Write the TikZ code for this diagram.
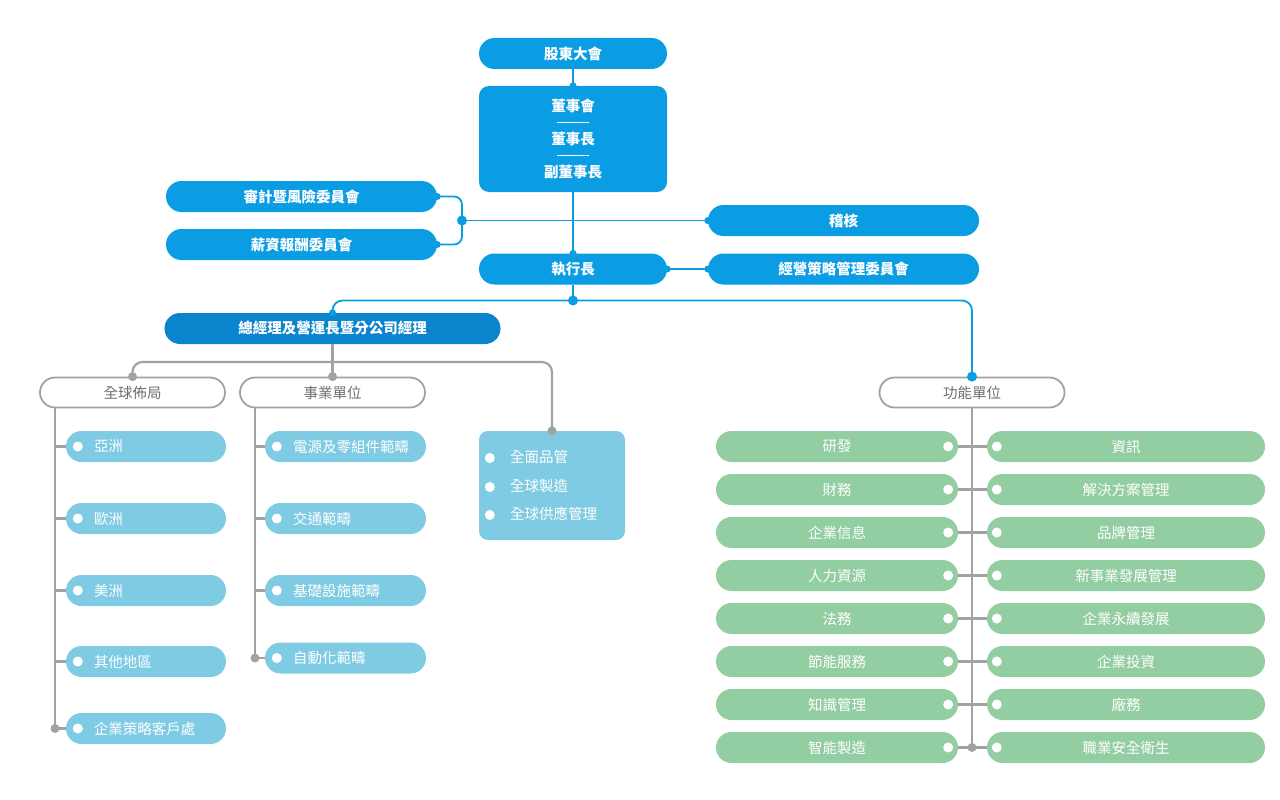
\documentclass[tikz,border=0pt]{standalone}
\usepackage{fontspec}
\usepackage{tikz}
\setmainfont{Noto Sans CJK TC}
\definecolor{skyblue}{HTML}{0A9DE4}
\definecolor{deepblue}{HTML}{0B84CE}
\definecolor{paleblue}{HTML}{7FCBE3}
\definecolor{sage}{HTML}{93CDA2}
\definecolor{wire}{HTML}{A2A2A2}
\definecolor{caption}{HTML}{6E6E6E}
\tikzset{
  pill/.style={rectangle,rounded corners=15.5pt,minimum height=31pt,inner sep=0pt,text=white},
  headbox/.style={pill,fill=skyblue,font=\bfseries\fontsize{14.5}{17}\selectfont},
  groupbox/.style={pill,draw=wire,line width=1.8pt,fill=white,text=caption,rounded corners=15pt,minimum width=185pt,minimum height=30pt,font=\fontsize{14.5}{17}\selectfont},
  listitem/.style={pill,fill=paleblue,text width=#1,align=left,font=\fontsize{14.5}{17}\selectfont,execute at begin node={\hspace*{28pt}}},
  deptitem/.style={pill,fill=sage,minimum width=#1,font=\fontsize{14.5}{17}\selectfont},
  blueline/.style={skyblue,line width=1.8pt},
  grayline/.style={wire,line width=2.2pt},
}
\begin{document}
\begin{tikzpicture}[x=1pt,y=-1pt]
\useasboundingbox (0,0) rectangle (1280,800);
% top of the tree
\node[headbox,minimum width=188pt] (sh) at (573,53.5) {股東大會};
\node[headbox,minimum width=188pt,minimum height=106pt,rounded corners=10pt,align=center,font=\bfseries\fontsize{14.5}{16.5}\selectfont] (board) at (573,139) {董事會\\\rule[5pt]{32pt}{0.7pt}\\董事長\\\rule[5pt]{32pt}{0.7pt}\\副董事長};
\node[headbox,minimum width=271pt] (auditc) at (301.5,196.5) {審計暨風險委員會};
\node[headbox,minimum width=271pt] (salary) at (301.5,244.5) {薪資報酬委員會};
\node[headbox,minimum width=271pt] (audit) at (843.5,220.5) {稽核};
\node[headbox,minimum width=188pt] (ceo) at (573,269) {執行長};
\node[headbox,minimum width=271pt] (stratc) at (843.5,269) {經營策略管理委員會};
\node[headbox,fill=deepblue,minimum width=336pt] (gm) at (332.5,328.5) {總經理及營運長暨分公司經理};
\coordinate (cj) at (462,220.5);
\coordinate (cbus) at (573,300.5);
\draw[blueline] (sh.south) -- (board.north);
\draw[blueline] (board.south) -- (ceo.north);
\draw[blueline,rounded corners=8pt] (auditc.east) -| (cj);
\draw[blueline,rounded corners=8pt] (salary.east) -| (cj);
\draw[blueline] (cj) -- (audit.west);
\draw[blueline] (ceo.east) -- (stratc.west);
\draw[blueline] (ceo.south) -- (cbus);
% groups
\node[groupbox] (global) at (132.5,392.5) {全球佈局};
\node[groupbox] (biz) at (332.5,392.5) {事業單位};
\node[groupbox] (func) at (972,392.5) {功能單位};
\draw[blueline,rounded corners=10pt] (gm.north) |- (cbus) -| (func.north);
\fill[skyblue] (cj) circle (5pt) (cbus) circle (5pt) (func.north) circle (5pt);
\fill[skyblue] (board.north) circle (3.5pt) (ceo.north) circle (3.5pt) (gm.north) circle (3.5pt)
  (auditc.east) circle (3.5pt) (salary.east) circle (3.5pt) (audit.west) circle (3.5pt)
  (ceo.east) circle (3.5pt) (stratc.west) circle (3.5pt);
% regions
\node[listitem=160pt] (asia) at (146,446.5) {亞洲};
\node[listitem=160pt] (europe) at (146,518.5) {歐洲};
\node[listitem=160pt] (america) at (146,590.5) {美洲};
\node[listitem=160pt] (others) at (146,661.5) {其他地區};
\node[listitem=160pt] (keyacc) at (146,728.5) {企業策略客戶處};
% business units
\node[listitem=161pt] (power) at (345.5,446.5) {電源及零組件範疇};
\node[listitem=161pt] (transport) at (345.5,518.5) {交通範疇};
\node[listitem=161pt] (infra) at (345.5,590.5) {基礎設施範疇};
\node[listitem=161pt] (automation) at (345.5,658) {自動化範疇};
\node[pill,fill=paleblue,rounded corners=9pt,minimum height=109pt,minimum width=146pt,text width=84pt,align=left,font=\fontsize{14.5}{28.5}\selectfont] (quality) at (552,485.5) {全面品管\\全球製造\\全球供應管理};
\coordinate (gbus) at (332.5,362);
\coordinate (gend) at (55,728.5);
\coordinate (bend) at (255,658);
\draw[grayline] (gm.south) -- (biz.north);
\draw[grayline,rounded corners=10pt] (global.north) |- (gbus) -| (quality.north);
\draw[grayline] (global.south -| gend) -- (gend);
\draw[grayline] (asia.west -| gend) -- (asia.west);
\draw[grayline] (europe.west -| gend) -- (europe.west);
\draw[grayline] (america.west -| gend) -- (america.west);
\draw[grayline] (others.west -| gend) -- (others.west);
\draw[grayline] (keyacc.west -| gend) -- (keyacc.west);
\draw[grayline] (biz.south -| bend) -- (bend);
\draw[grayline] (power.west -| bend) -- (power.west);
\draw[grayline] (transport.west -| bend) -- (transport.west);
\draw[grayline] (infra.west -| bend) -- (infra.west);
\draw[grayline] (automation.west -| bend) -- (automation.west);
\fill[wire] (global.north) circle (4.5pt) (biz.north) circle (4.5pt) (quality.north) circle (4.5pt)
  (gend) circle (4.5pt) (bend) circle (4.5pt);
\fill[white] (asia.west) ++(12,0) circle (5pt) (europe.west) ++(12,0) circle (5pt)
  (america.west) ++(12,0) circle (5pt) (others.west) ++(12,0) circle (5pt)
  (keyacc.west) ++(12,0) circle (5pt) (power.west) ++(12,0) circle (5pt)
  (transport.west) ++(12,0) circle (5pt) (infra.west) ++(12,0) circle (5pt)
  (automation.west) ++(12,0) circle (5pt);
\fill[white] (quality.west) ++(11,-27.5) circle (5pt) (quality.west) ++(11,1.5) circle (5pt)
  (quality.west) ++(11,29.5) circle (5pt);
% functional units
\node[deptitem=242pt] (rd) at (837,446.5) {研發};
\node[deptitem=242pt] (finance) at (837,489.5) {財務};
\node[deptitem=242pt] (corpinfo) at (837,532.5) {企業信息};
\node[deptitem=242pt] (hr) at (837,575.5) {人力資源};
\node[deptitem=242pt] (legal) at (837,618.5) {法務};
\node[deptitem=242pt] (energy) at (837,661.5) {節能服務};
\node[deptitem=242pt] (knowledge) at (837,704.5) {知識管理};
\node[deptitem=242pt] (smartmfg) at (837,747.5) {智能製造};
\node[deptitem=278pt] (it) at (1126,446.5) {資訊};
\node[deptitem=278pt] (solution) at (1126,489.5) {解決方案管理};
\node[deptitem=278pt] (brand) at (1126,532.5) {品牌管理};
\node[deptitem=278pt] (newbiz) at (1126,575.5) {新事業發展管理};
\node[deptitem=278pt] (sustain) at (1126,618.5) {企業永續發展};
\node[deptitem=278pt] (invest) at (1126,661.5) {企業投資};
\node[deptitem=278pt] (facility) at (1126,704.5) {廠務};
\node[deptitem=278pt] (safety) at (1126,747.5) {職業安全衛生};
\coordinate (fend) at (972,747.5);
\draw[grayline] (func.south) -- (fend);
\draw[grayline] (rd.east) -- (it.west);
\draw[grayline] (finance.east) -- (solution.west);
\draw[grayline] (corpinfo.east) -- (brand.west);
\draw[grayline] (hr.east) -- (newbiz.west);
\draw[grayline] (legal.east) -- (sustain.west);
\draw[grayline] (energy.east) -- (invest.west);
\draw[grayline] (knowledge.east) -- (facility.west);
\draw[grayline] (smartmfg.east) -- (safety.west);
\fill[wire] (fend) circle (4.5pt);
\fill[white] (rd.east) ++(-10,0) circle (5pt) (finance.east) ++(-10,0) circle (5pt)
  (corpinfo.east) ++(-10,0) circle (5pt) (hr.east) ++(-10,0) circle (5pt)
  (legal.east) ++(-10,0) circle (5pt) (energy.east) ++(-10,0) circle (5pt)
  (knowledge.east) ++(-10,0) circle (5pt) (smartmfg.east) ++(-10,0) circle (5pt);
\fill[white] (it.west) ++(10,0) circle (5pt) (solution.west) ++(10,0) circle (5pt)
  (brand.west) ++(10,0) circle (5pt) (newbiz.west) ++(10,0) circle (5pt)
  (sustain.west) ++(10,0) circle (5pt) (invest.west) ++(10,0) circle (5pt)
  (facility.west) ++(10,0) circle (5pt) (safety.west) ++(10,0) circle (5pt);
\end{tikzpicture}
\end{document}
